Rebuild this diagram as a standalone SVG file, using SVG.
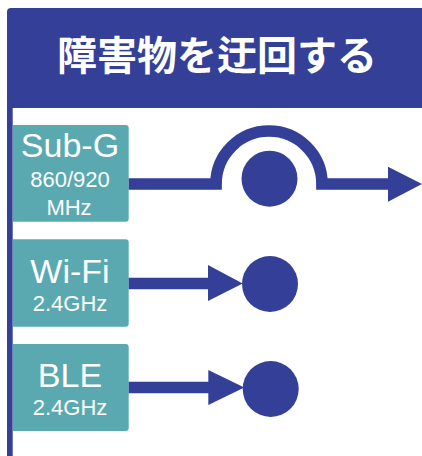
<svg xmlns="http://www.w3.org/2000/svg" width="422" height="456" viewBox="0 0 422 456">
<defs>
<style>
.blue{fill:#343f98}
.box{fill:#5aa9b1}
.lbl{fill:#ffffff;font-family:"Liberation Sans","DejaVu Sans",sans-serif;text-anchor:middle}
.big{font-size:34px}
.small{font-size:22px}
.line{fill:none;stroke:#343f98;stroke-width:11.7;stroke-linejoin:miter}
.title{fill:#ffffff;font-family:"Noto Sans CJK JP","Noto Sans CJK SC",sans-serif;font-weight:bold;font-size:40px;text-anchor:middle}
</style>
</defs>
<rect width="422" height="456" fill="#ffffff"/>
<g id="frame">
<path class="blue" d="M7,12 Q7,8 11,8 H422 V108 H12.7 V456 H7 Z"/>
<text class="title" x="217" y="70">障害物を迂回する</text>
</g>
<g id="subg">
<path class="box" d="M12.7,125 H125.7 Q128.7,125 128.7,128 V218.7 Q128.7,221.7 125.7,221.7 H12.7 Z"/>
<text class="lbl big" x="70" y="157">Sub-G</text>
<text class="lbl small" x="70" y="187">860/920</text>
<text class="lbl small" x="69" y="215">MHz</text>
</g>
<g id="wifi">
<path class="box" d="M12.7,239.3 H125.7 Q128.7,239.3 128.7,242.3 V323.7 Q128.7,326.7 125.7,326.7 H12.7 Z"/>
<text class="lbl big" x="70" y="283">Wi-Fi</text>
<text class="lbl small" x="70" y="311">2.4GHz</text>
</g>
<g id="ble">
<path class="box" d="M12.7,344 H125.7 Q128.7,344 128.7,347 V428 Q128.7,431 125.7,431 H12.7 Z"/>
<text class="lbl big" x="70" y="387">BLE</text>
<text class="lbl small" x="70" y="415">2.4GHz</text>
</g>
<g id="obstacle1"><circle class="blue" cx="269.5" cy="178.7" r="28"/></g>
<g id="obstacle2"><circle class="blue" cx="270" cy="284" r="28"/></g>
<g id="obstacle3"><circle class="blue" cx="270.7" cy="389" r="28"/></g>
<g id="connectors">
<path class="line" d="M128.7,184 H216 A53,53 0 0 1 322,184 H390"/>
<polygon class="blue" points="388,166.7 422,184 388,201.7"/>
<path class="line" d="M128.7,283.5 H210"/>
<polygon class="blue" points="208,265 242.7,283.5 208,301"/>
<path class="line" d="M128.7,387.5 H210"/>
<polygon class="blue" points="208.3,370 244.3,387.5 208.3,405"/>
</g>
</svg>
